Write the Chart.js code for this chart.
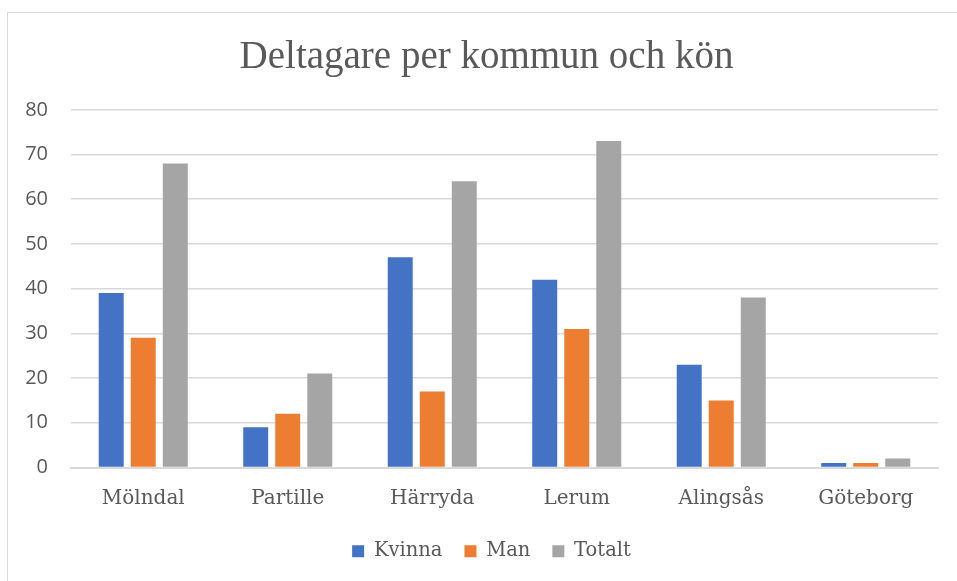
<!DOCTYPE html>
<html>
<head>
<meta charset="utf-8">
<script src="https://cdn.jsdelivr.net/npm/chart.js@4/dist/chart.umd.min.js"></script>
<style>
    body { margin: 0; background: #fff; }
    #frame { position: absolute; left: 7px; top: 12px; width: 980px; height: 600px; border: 1px solid #d9d9d9; }
    #wrap { position: absolute; left: 0; top: 0; width: 957px; height: 581px; }
</style>
</head>
<body>
<div id="frame"></div>
<div id="wrap"><canvas id="chart"></canvas></div>
<script>
const kommuner = ['Mölndal', 'Partille', 'Härryda', 'Lerum', 'Alingsås', 'Göteborg'];
const kvinna = [39, 9, 47, 42, 23, 1];
const man = [29, 12, 17, 31, 15, 1];
const totalt = [68, 21, 64, 73, 38, 2];
const yTicks = [0, 10, 20, 30, 40, 50, 60, 70, 80];

document.addEventListener('DOMContentLoaded', function () {
    const textColor = '#595959';
    const gridColor = '#d9d9d9';

    // title and legend sit a bit right of the canvas centre in the original
    const blockShift = {
        id: 'blockShift',
        afterLayout(chart) {
            if (chart.titleBlock) chart.titleBlock.left = 35;
            if (chart.legend) chart.legend.left = 45;
        }
    };

    new Chart(document.getElementById('chart'), {
        type: 'bar',
        data: {
            labels: kommuner,
            datasets: [
                { label: 'Kvinna', data: kvinna, backgroundColor: '#4472C4' },
                { label: 'Man', data: man, backgroundColor: '#ED7D31' },
                { label: 'Totalt', data: totalt, backgroundColor: '#A5A5A5' }
            ]
        },
        options: {
            responsive: true,
            maintainAspectRatio: false,
            animation: false,
            categoryPercentage: 0.665,
            barPercentage: 0.78,
            layout: { padding: { top: 14, right: 19, bottom: 10, left: 0 } },
            plugins: {
                title: {
                    display: true,
                    text: 'Deltagare per kommun och kön',
                    color: textColor,
                    font: { family: '"Liberation Serif", serif', size: 39, weight: 'normal' },
                    padding: { top: 20, bottom: 29 }
                },
                legend: {
                    position: 'bottom',
                    labels: {
                        color: textColor,
                        boxWidth: 12,
                        boxHeight: 12,
                        padding: 22,
                        font: { family: '"DejaVu Serif", serif', size: 19.5 }
                    }
                },
                tooltip: { enabled: false }
            },
            scales: {
                x: {
                    grid: { display: false, drawTicks: false },
                    border: { color: gridColor, width: 2 },
                    ticks: {
                        color: textColor,
                        padding: 19,
                        font: { family: '"DejaVu Serif", serif', size: 20 }
                    },
                    afterFit: function (scale) { scale.height -= 10; }
                },
                y: {
                    min: 0,
                    max: 80,
                    afterBuildTicks: function (scale) {
                        scale.ticks = yTicks.map(v => ({ value: v }));
                    },
                    grid: { color: gridColor, lineWidth: 1.5, drawTicks: false },
                    border: { display: false },
                    ticks: {
                        color: textColor,
                        padding: 23,
                        font: { family: '"Open Sans", sans-serif', size: 20 }
                    },
                    afterFit: function (scale) { scale.width = 71; }
                }
            }
        },
        plugins: [blockShift]
    });
});
</script>
</body>
</html>
